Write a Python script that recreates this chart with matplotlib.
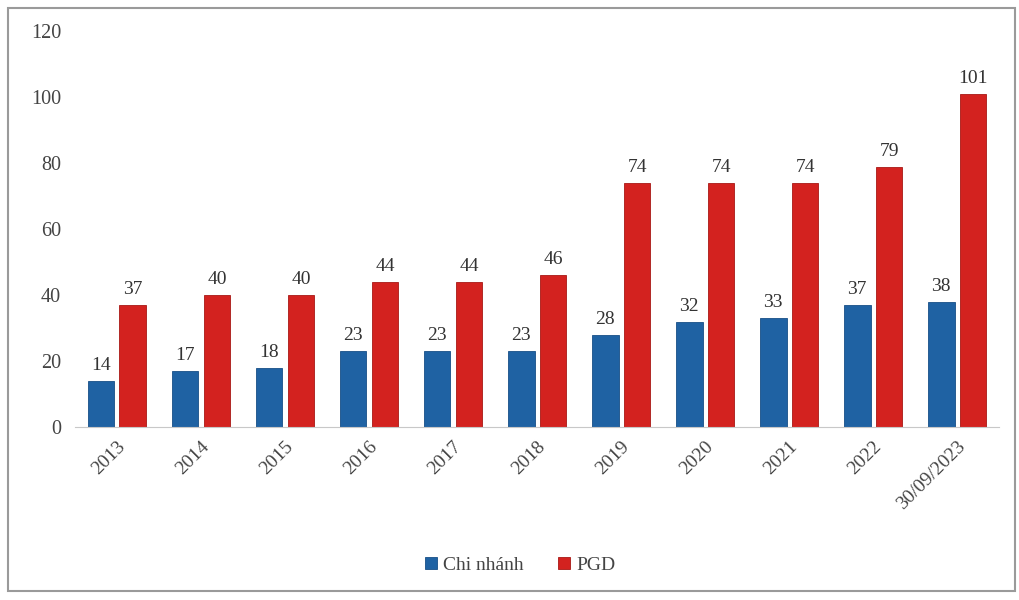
import numpy as np
import matplotlib.pyplot as plt
import matplotlib.patches as patches

plt.rcParams['font.family'] = ['Liberation Serif', 'DejaVu Serif']

# chart data
categories = ['2013', '2014', '2015', '2016', '2017', '2018', '2019', '2020',
              '2021', '2022', '30/09/2023']
chi_nhanh = [14, 17, 18, 23, 23, 23, 28, 32, 33, 37, 38]
pgd = [37, 40, 40, 44, 44, 46, 74, 74, 74, 79, 101]

BLUE = '#1f62a3'
RED = '#d3221f'

fig = plt.figure(figsize=(10.2, 6), dpi=100)
ax = fig.add_axes([0.0735, 0.288, 0.906, 0.66])

# grey frame around the whole chart
frame = patches.Rectangle((0.008, 0.015), 0.987, 0.972, transform=fig.transFigure,
                          fill=False, edgecolor='#9a9a9a', linewidth=1.5)
fig.patches.append(frame)

x = np.arange(len(categories))
w = 0.32
gap = 0.03
b1 = ax.bar(x - w / 2 - gap, chi_nhanh, w, color=BLUE, edgecolor='#174f86',
            linewidth=0.6, label='Chi nhánh')
b2 = ax.bar(x + w / 2 + gap, pgd, w, color=RED, edgecolor='#a81815',
            linewidth=0.6, label='PGD')

for bars in (b1, b2):
    ax.bar_label(bars, padding=5, fontsize=14, color='#333333')

ax.set_xlim(-0.5, len(categories) - 0.5)
ax.set_ylim(0, 120)
ax.set_yticks(range(0, 121, 20))
ax.set_xticks(x)
ax.set_xticklabels(categories, rotation=45, ha='right', rotation_mode='anchor',
                   fontsize=14, color='#444444')
ax.tick_params(axis='y', labelsize=14.5, labelcolor='#444444', length=0, pad=10)
ax.tick_params(axis='x', length=0, pad=8)

for s in ('top', 'right', 'left'):
    ax.spines[s].set_visible(False)
ax.spines['bottom'].set_color('#c8c8c8')

fig.legend(handles=[b1, b2], loc='center', bbox_to_anchor=(0.51, 0.058), ncol=2,
           frameon=False, fontsize=14, handlelength=0.6, handleheight=0.6,
           handletextpad=0.3, columnspacing=1.8, labelcolor='#444444')

fig.savefig('out.png', dpi=100)
